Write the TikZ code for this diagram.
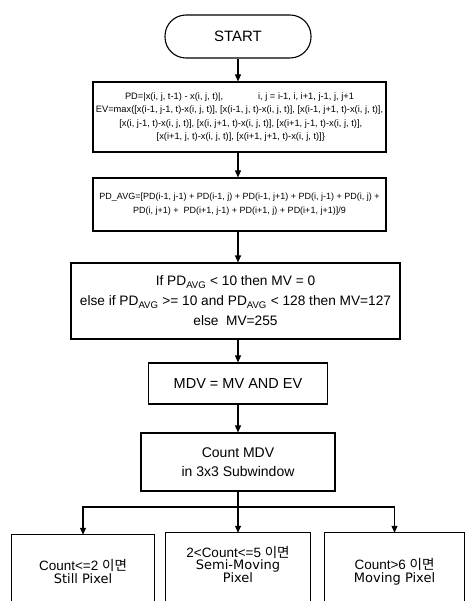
\documentclass[tikz,border=0pt]{standalone}
\usepackage{fontspec}
\setmainfont{Liberation Sans}
\newfontfamily\krfont{Noto Sans CJK KR}
\newfontfamily\dvfont{DejaVu Sans}
\usetikzlibrary{arrows.meta}
\begin{document}
\begin{tikzpicture}[x=1pt,y=-1pt,
  box/.style={draw, line width=1.1pt, inner sep=0pt, align=center},
  arr/.style={line width=1.1pt, -{Triangle[width=6pt,length=7pt]}},
  line/.style={line width=1.1pt},
  tiny/.style={font=\fontsize{9.3}{13.5}\selectfont},
  mid/.style={font=\fontsize{13.7}{20}\selectfont},
  big/.style={font=\fontsize{14.5}{19}\selectfont},
  bottomtext/.style={align=center, inner sep=0pt}]
\useasboundingbox (0,0) rectangle (464,601);
% START
\node[box, rounded corners=21pt, minimum width=146pt, minimum height=43pt,
      font=\fontsize{15}{18}\selectfont] (start) at (238,36.5) {START};
% Box 1
\node[box, tiny, minimum width=293pt, minimum height=70pt] (b1) at (239.5,117)
 {PD=|x(i, j, t-1) - x(i, j, t)|,\hspace{35pt}i, j = i-1, i, i+1, j-1, j, j+1\\
  EV=max([x(i-1, j-1, t)-x(i, j, t)], [x(i-1, j, t)-x(i, j, t)], [x(i-1, j+1, t)-x(i, j, t)],\\{}
  [x(i, j-1, t)-x(i, j, t)], [x(i, j+1, t)-x(i, j, t)], [x(i+1, j-1, t)-x(i, j, t)],\\{}
  [x(i+1, j, t)-x(i, j, t)], [x(i+1, j+1, t)-x(i, j, t)]\}};
% Box 2
\node[box, font=\fontsize{9.0}{14}\selectfont, minimum width=293pt, minimum height=53pt] (b2) at (239.5,204.5)
 {PD\_AVG=[PD(i-1, j-1) + PD(i-1, j) + PD(i-1, j+1) + PD(i, j-1) + PD(i, j) +\\
  PD(i, j+1) +\ \ PD(i+1, j-1) + PD(i+1, j) + PD(i+1, j+1)]/9};
% Box 3
\node[box, mid, minimum width=329pt, minimum height=76pt] (b3) at (235.5,301)
 {If PD\textsubscript{AVG} < 10 then MV = 0\\
  else if PD\textsubscript{AVG} >= 10 and PD\textsubscript{AVG} < 128 then MV=127\\
  else\ \ MV=255};
% MDV box
\node[box, big, minimum width=179pt, minimum height=41pt] (mdv) at (238,383.5)
 {MDV = MV AND EV};
% Count box
\node[box, font=\fontsize{14}{19}\selectfont, minimum width=194pt, minimum height=58pt] (cnt) at (238,462)
 {Count MDV\\in 3x3 Subwindow};
% bottom frames (open at the bottom edge)
\node[inner sep=0pt, minimum width=142pt, minimum height=66pt] (l) at (83,568) {};
\node[inner sep=0pt, minimum width=144pt, minimum height=68pt] (m) at (238,567) {};
\node[inner sep=0pt, minimum width=139pt, minimum height=68pt] (r) at (394.5,567) {};
\draw[line] (l.south west) -- (l.north west) -- (l.north east) -- (l.south east);
\draw[line] (m.south west) -- (m.north west) -- (m.north east) -- (m.south east);
\draw[line] (r.south west) -- (r.north west) -- (r.north east) -- (r.south east);
% bottom texts
\node[bottomtext] (lt) at (83,571.5)
 {{\fontsize{13.5}{16}\selectfont Count<=2 {\krfont 이면}}\\[1pt]
  {\dvfont\fontsize{13}{16}\selectfont Still Pixel}};
\node[bottomtext] (mt) at (238,564.5)
 {{\fontsize{13.5}{16}\selectfont 2<Count<=5 {\krfont 이면}}\\[0pt]
  {\dvfont\fontsize{13}{16.5}\selectfont Semi-Moving}\\[0pt]
  {\dvfont\fontsize{13}{16.5}\selectfont Pixel}};
\node[bottomtext] (rt) at (394.5,571.5)
 {{\fontsize{13.5}{16}\selectfont Count>6 {\krfont 이면}}\\[1pt]
  {\dvfont\fontsize{13}{16}\selectfont Moving Pixel}};
% connectors
\draw[arr] (start.south) -- (start.south |- b1.north);
\draw[arr] (b1.south -| start.south) -- (start.south |- b2.north);
\draw[arr] (b2.south -| start.south) -- (start.south |- b3.north);
\draw[arr] (b3.south -| mdv.north) -- (mdv.north);
\draw[arr] (mdv.south) -- (cnt.north);
\coordinate (j) at (238,507);
\draw[line] (cnt.south) -- (j);
\draw[arr] (j) -| (l.north);
\draw[arr] (j) -| (r.north);
\draw[arr] (j) -- (m.north);
\end{tikzpicture}
\end{document}
